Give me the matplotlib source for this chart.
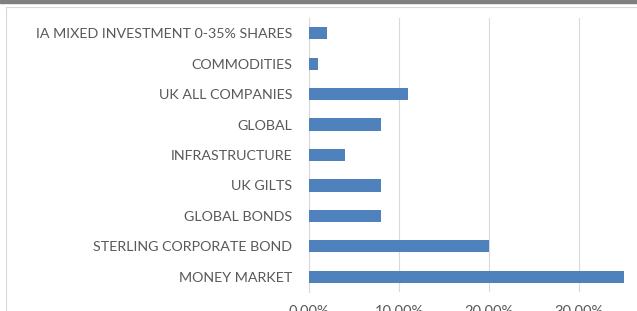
import matplotlib
matplotlib.use("Agg")
import matplotlib.pyplot as plt
from matplotlib.ticker import FuncFormatter
from matplotlib.patches import Rectangle
from matplotlib.lines import Line2D

categories = ["IA MIXED INVESTMENT 0-35% SHARES", "COMMODITIES", "UK ALL COMPANIES",
              "GLOBAL", "INFRASTRUCTURE", "UK GILTS", "GLOBAL BONDS",
              "STERLING CORPORATE BOND", "MONEY MARKET"]
weights = [0.02, 0.01, 0.11, 0.08, 0.04, 0.08, 0.08, 0.20, 0.35]
xticks = [0.0, 0.1, 0.2, 0.3]

plt.rcParams['font.family'] = ['Lato', 'DejaVu Sans']
W, H = 637, 311
fig = plt.figure(figsize=(W / 100, H / 100), dpi=100)
ax = fig.add_axes([309 / W, 1 - 292 / H, (624 - 309) / W, (292 - 18) / H])

pos = list(range(len(categories)))
ax.barh(pos, weights, height=0.4, color='#4F81BD', zorder=3)
ax.set_ylim(len(categories) - 0.5, -0.5)
ax.set_xlim(0, 0.35)
ax.set_yticks(pos)
ax.set_yticklabels(categories, fontsize=10.3, color='#595959')
ax.set_xticks(xticks)
ax.xaxis.set_major_formatter(FuncFormatter(lambda v, p: f"{v*100:.2f}%"))
ax.tick_params(axis='x', labelsize=10.5, colors='#595959', length=0, pad=9.5)
ax.tick_params(axis='y', length=0, pad=12)
ax.grid(axis='x', color='#D9D9D9', linewidth=0.8, zorder=0)
for s in ['top', 'right', 'bottom']:
    ax.spines[s].set_visible(False)
ax.spines['left'].set_color('#D9D9D9')
ax.spines['left'].set_linewidth(0.8)

# frame pieces of the cropped screenshot
fig.add_artist(Rectangle((0, 1 - 3 / H), 1, 3 / H, transform=fig.transFigure, color='#7F7F7F'))
fig.add_artist(Line2D([6 / W, 1], [1 - 6.5 / H] * 2, transform=fig.transFigure, color='#D9D9D9', lw=0.8))
fig.add_artist(Line2D([6 / W] * 2, [0, 1 - 6.5 / H], transform=fig.transFigure, color='#D9D9D9', lw=0.8))

fig.savefig("out.png", dpi=100)
